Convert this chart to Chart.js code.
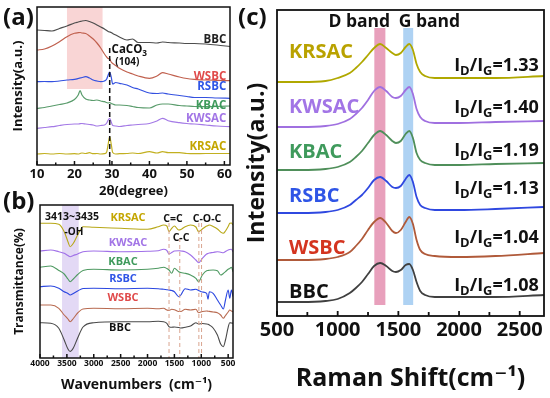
<!DOCTYPE html>
<html><head><meta charset="utf-8">
<script src="https://cdn.jsdelivr.net/npm/chart.js@4.4.1/dist/chart.umd.min.js"></script>
<style>
html,body{margin:0;padding:0;background:#fff;}
#wrap{position:relative;width:550px;height:398px;overflow:hidden;background:#fff;}
canvas{position:absolute;}
.plabel{position:absolute;font:bold 24px 'Open Sans',sans-serif;line-height:1;color:#111;}
</style></head><body>
<div id="wrap">
<canvas id="cA" width="240" height="200" style="left:0px;top:0px"></canvas>
<canvas id="cB" width="240" height="203" style="left:0px;top:195px"></canvas>
<canvas id="cC" width="310" height="398" style="left:240px;top:0px"></canvas>
<div class="plabel" style="left:3px;top:4px">(a)</div>
<div class="plabel" style="left:3px;top:188px">(b)</div>
<div class="plabel" style="left:238px;top:4px">(c)</div>
</div>
<script>
const FONT = "'Open Sans', 'DejaVu Sans', sans-serif";

// ---------- XRD (a) ----------
const xrdTheta = [10,12,14,16,18,20,21,21.5,22,23,24,25,26,27,28,28.6,29,29.4,29.8,30.2,31,32,34,35.5,37,40,42,43.5,45,48,50,52,55,58,61.5];
const xrdBBC   = [135,134.5,134,136.5,139,142,143,143.5,144,144.5,143.5,142,140,138,136,134.5,133.5,133,132.5,131.5,130,128,125,126,122.5,122.5,122,123,122.5,122,121.5,121.5,121,120,118.5];
const xrdWSBC  = [115,116,119,123.3,128.3,131.7,132.3,132.5,132,131.5,129,126,122,117,111,108,106.5,106,103,101.5,99.5,96.7,93,91,89,86.7,89,92.3,91,88,86.5,85.7,85,84.7,84.3];
const xrdRSBC  = [83.3,83.5,83.3,84,85,85.7,86.5,87,87.5,88.3,87,85,84,83.3,84,86,90,93,88,81,82.5,81.7,80,77.5,76,72,71.5,72,71,69.5,68.5,67.5,67.5,67,66.7];
const xrdKBAC  = [56.7,57.5,59,60.5,62,65.5,70,74.3,70,66,65,64.5,65,64,63.3,62.5,62,62.5,61.5,61,60,60,59.5,58.5,57.5,57,60,61,61,59.5,59,58.5,58.3,58.5,59];
const xrdKWSAC = [36.7,37.5,38.3,39.5,40.5,41,41,41.3,41.5,41,40.5,40,39,39.5,40,42,45,46.7,43,39.5,39,38.5,39.5,40,40.5,41.5,44,46.7,44.3,42.3,41.5,41,40,39,38.3];
const xrdKRSAC = [11,11.5,11,11.5,11,11.3,11,11.5,12,11.5,12.3,11.3,11.5,11,11.3,13,21,28.3,21,12.5,11,11.3,11.5,12,11.5,13.3,12,13.3,12.3,12.3,11.5,11.3,11.5,11.5,11.5];
const xrdTickLabels = [10,20,30,40,50,60];

// ---------- FTIR (b) ----------
const ftirWavenumber = [4000,3800,3650,3550,3480,3440,3380,3300,3200,3000,2500,2000,1800,1700,1640,1600,1550,1500,1420,1380,1300,1200,1100,1050,980,900,875,850,780,700,640,590,550,500,470,440,410];
const ftirKRSAC = [134.7,134.7,133.7,126.3,116.3,111.3,114.7,123,131.3,130.7,129.7,128.7,131.3,133,132,126.3,129.7,132,128,128.5,131.3,133,131,126.3,129,132,132.5,133,131.5,129,126,124.7,127,131.5,134.7,135,133];
const ftirKWSAC = [107,108,106.3,104.7,102.5,101.3,102.5,104,106.3,107,106.3,106.7,107.3,108.7,107.5,104,105.5,107,107.3,107,106.3,103,98,95.3,99.7,104,104.5,105,105.5,106.3,105.8,105.3,106.5,108,108.5,108.7,106.3];
const ftirKBAC  = [90.7,92,87.5,84,79,76.3,79,83.5,87.5,88.7,88,88.7,89.7,90.7,89.5,88,84.7,89.7,86.3,85.5,84.7,83,79.7,76.3,83,87.3,87.5,87.8,88,87.3,83,84.5,86.3,88.7,89.5,90.7,86.3];
const ftirRSBC  = [71.3,72,69.7,66.3,64.5,63,64.5,67,69.5,69.7,69.3,69.7,69.3,68.7,68.3,68,67.5,66.3,61.3,63,69.3,68,68.7,67.5,66,64.7,58.7,66.3,64.7,58,53,49,58,68,59.7,68,61.3];
const ftirWSBC  = [53,53,49.7,43,39,36.3,39.5,45,49,49.7,49.3,49.7,49.3,49.7,48,47.5,48.7,48.3,46.5,46.5,48.7,48,48.7,45.3,46.5,47,46.8,46.6,46,45.3,43,39.7,42.5,46,48,47,46.3];
const ftirBBC   = [35.3,34.7,29.7,18,9,6.5,10,20,31,35.3,36.3,36.3,36.7,36.3,34.7,31.3,30.7,31,30.5,30,30.7,32,35.3,34,34.5,34,33.7,33,30,23,14,11.3,18,30.7,35.3,35,34.7];
const ftirTickLabels = [4000,3500,3000,2500,2000,1500,1000,500];

// ---------- Raman (c) ----------
const ramanShift = [500,700,900,1000,1100,1150,1200,1250,1300,1350,1400,1450,1480,1520,1560,1590,1620,1650,1680,1720,1800,2000,2300,2700];
const ramanBBC   = [14,14,15,17,23,28,34,42,50,53,50,45,44,46,51,52,46,34,25,21,19,19,19,21];
const ramanWSBC  = [56,56,57,59,64,70,77,86,94,98,93,85,83,86,94,99,92,76,66,62,60,59,60,63];
const ramanRSBC  = [103,103,104,106,111,116,121,128,136,139,135,129,128,130,137,141,134,119,111,108,106,106,107,109];
const ramanKBAC  = [146,146,147,149,154,159,165,173,181,185,181,175,173,175,182,185,178,163,156,153,151,151,152,153];
const ramanKWSAC = [189,189,190,192,197,202,208,216,225,229,225,219,218,220,226,229,222,207,199,195,193,193,194,195];
const ramanKRSAC = [234,234,235,238,243,248,254,261,268,272,268,263,261,263,269,272,266,252,244,240,238,238,238,240];
const ramanSamples = ['BBC','WSBC','RSBC','KBAC','KWSAC','KRSAC'];
const idigRatios = ['1.08','1.04','1.13','1.19','1.40','1.33'];
const ramanTickLabels = [500,1000,1500,2000,2500];

// ---------- helpers ----------
function pts(xs, ys){ return xs.map((x,i)=>({x:x, y:ys[i]})); }
function richRuns(str){
  const out=[]; const re=/([_^])\{([^}]*)\}/g; let last=0, m;
  while((m=re.exec(str))){ if(m.index>last) out.push([str.slice(last,m.index),'']); out.push([m[2], m[1]==='_'?'sub':'sup']); last=re.lastIndex; }
  if(last<str.length) out.push([str.slice(last),'']);
  return out;
}
function drawRich(ctx, str, px, py, align, size, color){
  const runs = richRuns(str);
  const f = k => `bold ${k ? size*0.72 : size}px ${FONT}`;
  let w=0; runs.forEach(r=>{ctx.font=f(r[1]); w+=ctx.measureText(r[0]).width;});
  let cx = align==='right' ? px-w : align==='center' ? px-w/2 : px;
  ctx.save(); ctx.fillStyle=color; ctx.textAlign='left'; ctx.textBaseline='middle';
  runs.forEach(r=>{ ctx.font=f(r[1]); const dy = r[1]==='sub' ? size*0.32 : r[1]==='sup' ? -size*0.38 : 0;
    ctx.fillText(r[0], cx, py+dy); cx+=ctx.measureText(r[0]).width; });
  ctx.restore();
}

const panelDecor = {
  id: 'panelDecor',
  beforeDatasetsDraw(chart, args, o){
    const {ctx, scales:{x,y}} = chart;
    ctx.save();
    (o.bands||[]).forEach(b=>{
      const x1=x.getPixelForValue(b.x0), x2=x.getPixelForValue(b.x1);
      const y1=y.getPixelForValue(b.y0), y2=y.getPixelForValue(b.y1);
      ctx.fillStyle=b.color;
      ctx.fillRect(Math.min(x1,x2), Math.min(y1,y2), Math.abs(x2-x1), Math.abs(y2-y1));
    });
    ctx.restore();
  },
  afterDatasetsDraw(chart, args, o){
    const {ctx, chartArea:a, scales:{x,y}} = chart;
    ctx.save();
    (o.dashes||[]).forEach(d=>{
      const px=x.getPixelForValue(d.x);
      ctx.strokeStyle=d.color; ctx.lineWidth=d.width; ctx.setLineDash(d.dash);
      ctx.beginPath(); ctx.moveTo(px, y.getPixelForValue(d.y0)); ctx.lineTo(px, y.getPixelForValue(d.y1)); ctx.stroke();
    });
    ctx.setLineDash([]);
    ctx.strokeStyle='#111'; ctx.lineWidth=o.frameWidth;
    ctx.strokeRect(a.left, a.top, a.right-a.left, a.bottom-a.top);
    // tick marks (inward) and tick labels from the x scale
    const tv = o.tickLabels;
    const mark = (v,len)=>{ const px=x.getPixelForValue(v); ctx.beginPath(); ctx.moveTo(px, a.bottom); ctx.lineTo(px, a.bottom-len); ctx.stroke(); };
    tv.forEach((v,i)=>{ mark(v, o.tickMajor); if(i<tv.length-1) mark((v+tv[i+1])/2, o.tickMinor); });
    ctx.fillStyle='#111'; ctx.font=`bold ${o.tickSize}px ${FONT}`; ctx.textAlign='center'; ctx.textBaseline='middle';
    tv.forEach(v=> ctx.fillText(String(v), x.getPixelForValue(v), a.bottom + o.tickOffset));
    (o.texts||[]).forEach(t=> drawRich(ctx, t.text, x.getPixelForValue(t.x), y.getPixelForValue(t.y), t.align||'left', t.size, t.color));
    ctx.restore();
  }
};

function makeChart(id, c){
  return new Chart(document.getElementById(id), {
    type:'line',
    data:{datasets: c.series.map(s=>({label:s.name, data: pts(c.xs, s.values), borderColor:s.color, borderWidth:c.lineWidth,
      pointRadius:0, fill:false, cubicInterpolationMode:'monotone'}))},
    options:{
      responsive:false, animation:false, devicePixelRatio:1,
      layout:{padding:c.padding},
      plugins:{legend:{display:false}, tooltip:{enabled:false}, panelDecor:c.decor},
      scales:{
        x:{type:'linear', reverse:!!c.reverse, min:c.xmin, max:c.xmax,
          ticks:{display:false},
          grid:{display:false, drawTicks:false}, border:{display:false},
          title:{display:true, text:c.xTitle, color:'#111', font:{family:FONT, weight:'bold', size:c.xTitleSize}, padding:{top:0, bottom:c.xTitlePad}},
          afterFit:s=>{ s.height=c.xHeight; s.paddingLeft=0; s.paddingRight=0; }},
        y:{type:'linear', min:c.ymin, max:c.ymax, ticks:{display:false}, grid:{display:false, drawTicks:false}, border:{display:false},
          title:{display:true, text:c.yTitle, color:'#111', font:{family:FONT, weight:'bold', size:c.yTitleSize}, padding:{top:c.yTitlePad, bottom:0}},
          afterFit:s=>{ s.width=c.yWidth; s.paddingTop=0; s.paddingBottom=0; }}
      }
    },
    plugins:[panelDecor]
  });
}

// ---------- panel (a) ----------
makeChart('cA', {
  xs: xrdTheta, xmin:10, xmax:61.5, ymin:0, ymax:158,
  padding:{top:7, right:10, left:0, bottom:0}, xHeight:35, yWidth:37,
  xTitle:'2θ(degree)', xTitleSize:13, xTitlePad:1,
  yTitle:'Intensity(a.u.)', yTitleSize:13, yTitlePad:10, lineWidth:1.2,
  series:[
    {name:'BBC', values:xrdBBC, color:'#4d4d4d'},
    {name:'WSBC', values:xrdWSBC, color:'#c0604e'},
    {name:'RSBC', values:xrdRSBC, color:'#3451e0'},
    {name:'KBAC', values:xrdKBAC, color:'#5a9c6c'},
    {name:'KWSAC', values:xrdKWSAC, color:'#a47ae6'},
    {name:'KRSAC', values:xrdKRSAC, color:'#c2b020'}
  ],
  decor:{
    tickLabels: xrdTickLabels, tickSize:13, tickOffset:9.5,
    frameWidth:1.5, tickMajor:4, tickMinor:2.5,
    bands:[{x0:18, x1:27.5, y0:76, y1:158, color:'rgba(240,150,150,0.4)'}],
    dashes:[{x:29.4, y0:117, y1:0, color:'#111', width:1.5, dash:[5,3]}],
    texts:[
      {text:'BBC', x:60.5, y:125, align:'right', size:11.5, color:'#222'},
      {text:'CaCO_{3}', x:29.9, y:115, align:'left', size:11.5, color:'#111'},
      {text:'(104)', x:34.1, y:103, align:'center', size:10, color:'#111'},
      {text:'WSBC', x:60.5, y:88, align:'right', size:11.5, color:'#e04a4a'},
      {text:'RSBC', x:60.5, y:78, align:'right', size:11.5, color:'#2f55e6'},
      {text:'KBAC', x:60.5, y:59, align:'right', size:11.5, color:'#3f9a5c'},
      {text:'KWSAC', x:60.5, y:46, align:'right', size:11.5, color:'#a275e6'},
      {text:'KRSAC', x:60.5, y:18, align:'right', size:11.5, color:'#c4a600'}
    ]
  }
});

// ---------- panel (b) ----------
makeChart('cB', {
  xs: ftirWavenumber, xmin:410, xmax:4000, reverse:true, ymin:0, ymax:153,
  padding:{top:10, right:7, left:0, bottom:0}, xHeight:40, yWidth:40,
  xTitle:'Wavenumbers  (cm⁻¹)', xTitleSize:14, xTitlePad:4.6,
  yTitle:'Transmittance(%)', yTitleSize:12, yTitlePad:12, lineWidth:1.1,
  series:[
    {name:'KRSAC', values:ftirKRSAC, color:'#b8a818'},
    {name:'KWSAC', values:ftirKWSAC, color:'#a070e8'},
    {name:'KBAC', values:ftirKBAC, color:'#4f9a62'},
    {name:'RSBC', values:ftirRSBC, color:'#2b47e0'},
    {name:'WSBC', values:ftirWSBC, color:'#b86a50'},
    {name:'BBC', values:ftirBBC, color:'#4a4a4a'}
  ],
  decor:{
    tickLabels: ftirTickLabels, tickSize:8.5, tickOffset:5.5,
    frameWidth:1.5, tickMajor:4, tickMinor:2.5,
    bands:[{x0:3590, x1:3280, y0:0, y1:153, color:'rgba(200,180,235,0.5)'}],
    dashes:[
      {x:1600, y0:135, y1:0, color:'#d9a48f', width:1, dash:[4,3]},
      {x:1400, y0:120, y1:0, color:'#d9a48f', width:1, dash:[4,3]},
      {x:1045, y0:135, y1:0, color:'#d9a48f', width:1, dash:[4,3]},
      {x:995, y0:135, y1:0, color:'#d9a48f', width:1, dash:[4,3]}
    ],
    texts:[
      {text:'3413~3435', x:3405, y:141, align:'center', size:10.5, color:'#111'},
      {text:'-OH', x:3368, y:126, align:'center', size:10, color:'#111'},
      {text:'KRSAC', x:2363, y:140, align:'center', size:11, color:'#c4a600'},
      {text:'KWSAC', x:2363, y:115, align:'center', size:11, color:'#a275e6'},
      {text:'KBAC', x:2456, y:96, align:'center', size:11, color:'#3f9a5c'},
      {text:'RSBC', x:2456, y:79, align:'center', size:11, color:'#2f55e6'},
      {text:'WSBC', x:2456, y:60, align:'center', size:11, color:'#e04a4a'},
      {text:'BBC', x:2512, y:30, align:'center', size:11, color:'#111'},
      {text:'C=C', x:1526, y:139, align:'center', size:10.5, color:'#111'},
      {text:'C-C', x:1377, y:120, align:'center', size:10.5, color:'#111'},
      {text:'C-O-C', x:894, y:139, align:'center', size:10.5, color:'#111'}
    ]
  }
});

// ---------- panel (c) ----------
const ramanLabelY = [24, 68, 120, 164, 209, 264];
const ratioY = [30, 78, 127, 165, 208, 250];
const ramanLabelColors = ['#111','#d4341f','#2f55e6','#3f9a5c','#a275e6','#b9a200'];
const ramanTexts = [
  {text:'D band', x:1178, y:294, align:'center', size:17.5, color:'#111'},
  {text:'G band', x:1756, y:294, align:'center', size:17.5, color:'#111'}
].concat(ramanSamples.map((n,i)=>({text:n, x:599, y:ramanLabelY[i], align:'left', size:20, color:ramanLabelColors[i]})))
 .concat(idigRatios.map((r,i)=>({text:'I_{D}/I_{G}='+r, x:2657, y:ratioY[i], align:'right', size:18, color:'#111'})));

makeChart('cC', {
  xs: ramanShift, xmin:500, xmax:2700, ymin:0, ymax:306,
  padding:{top:10, right:6, left:0, bottom:0}, xHeight:82, yWidth:37,
  xTitle:'Raman Shift(cm⁻¹)', xTitleSize:25, xTitlePad:4,
  yTitle:'Intensity(a.u.)', yTitleSize:23, yTitlePad:4, lineWidth:1.8,
  series:[
    {name:'BBC', values:ramanBBC, color:'#404040'},
    {name:'WSBC', values:ramanWSBC, color:'#b05a3a'},
    {name:'RSBC', values:ramanRSBC, color:'#2f48e0'},
    {name:'KBAC', values:ramanKBAC, color:'#4f8f5a'},
    {name:'KWSAC', values:ramanKWSAC, color:'#a070e0'},
    {name:'KRSAC', values:ramanKRSAC, color:'#b0a800'}
  ],
  decor:{
    tickLabels: ramanTickLabels, tickSize:20, tickOffset:14,
    frameWidth:1.8, tickMajor:5, tickMinor:4,
    bands:[
      {x0:1302, x1:1393, y0:11, y1:288, color:'rgba(222,120,160,0.7)'},
      {x0:1540, x1:1622, y0:11, y1:288, color:'rgba(120,180,235,0.6)'}
    ],
    texts: ramanTexts
  }
});
</script>
</body></html>
